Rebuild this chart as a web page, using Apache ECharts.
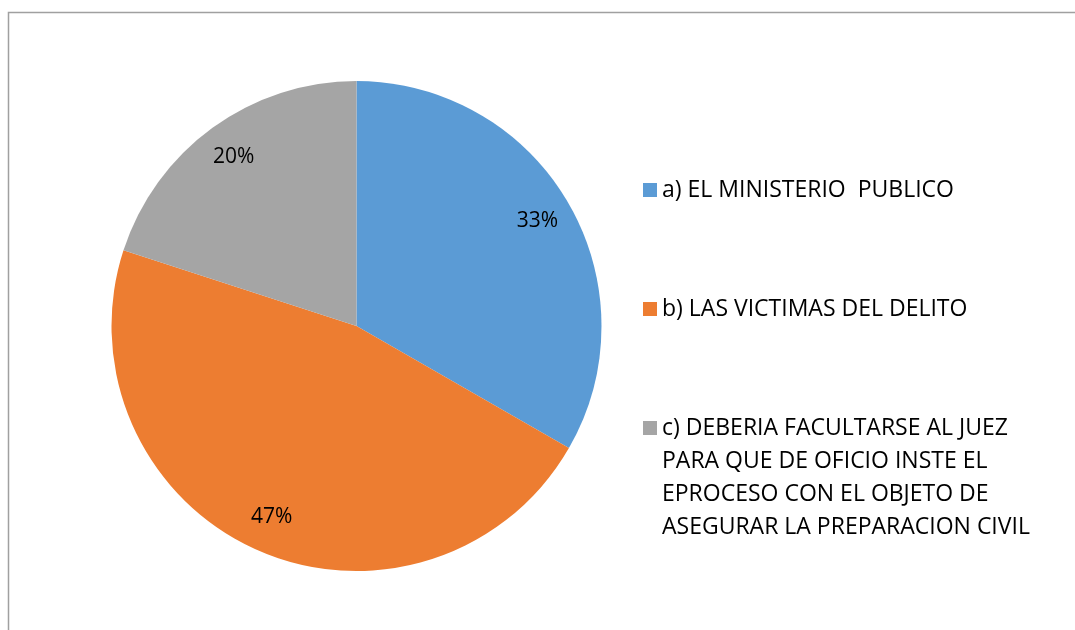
<!DOCTYPE html>
<html>
<head>
<meta charset="utf-8">
<script src="https://cdn.jsdelivr.net/npm/echarts@6/dist/echarts.min.js"></script>
<style>
html,body{margin:0;padding:0;background:#fff;}
#chart{width:1075px;height:630px;}
</style>
</head>
<body>
<div id="chart"></div>
<script>
const categories = [
  'a) EL MINISTERIO  PUBLICO',
  'b) LAS VICTIMAS DEL DELITO',
  'c) DEBERIA FACULTARSE AL JUEZ\nPARA QUE DE OFICIO INSTE EL\nEPROCESO CON EL OBJETO DE\nASEGURAR LA PREPARACION CIVIL'
];
const values = [33.3, 46.7, 20];
const colors = ['#5B9BD5', '#ED7D31', '#A5A5A5'];

const data = categories.map((n, i) => ({ name: n, value: values[i], itemStyle: { color: colors[i] } }));
const FONT = 'Open Sans';

const legendBase = {
  orient: 'vertical',
  left: 643,
  padding: 0,
  itemWidth: 14,
  itemHeight: 14,
  icon: 'rect',
  selectedMode: false,
  textStyle: { fontFamily: FONT, fontSize: 23, color: '#000', lineHeight: 33 }
};

const chart = echarts.init(document.getElementById('chart'));
chart.setOption({
  animation: false,
  backgroundColor: '#fff',
  graphic: [{
    type: 'rect',
    shape: { x: 8.5, y: 12.5, width: 1200, height: 800 },
    style: { fill: 'none', stroke: '#a0a0a0', lineWidth: 1.5 },
    silent: true,
    z: -10
  }],
  legend: [
    Object.assign({}, legendBase, { top: 173.5, data: [categories[0]] }),
    Object.assign({}, legendBase, { top: 292.5, data: [categories[1]] }),
    Object.assign({}, legendBase, {
      top: 312.5, data: [categories[2]],
      // leading blank lines keep the first text line level with the icon
      formatter: n => '\n\n\n' + n
    })
  ],
  series: [
    {
      type: 'pie',
      center: [356.5, 326],
      radius: [0, 245],
      startAngle: 90,
      clockwise: true,
      label: { show: false },
      labelLine: { show: false },
      emphasis: { disabled: true },
      itemStyle: { borderWidth: 0 },
      data: data
    },
    {
      type: 'pie',
      center: [356.5, 326],
      radius: [167, 245],
      startAngle: 90,
      clockwise: true,
      silent: true,
      emphasis: { disabled: true },
      itemStyle: { color: 'rgba(0,0,0,0)', borderWidth: 0 },
      label: {
        show: true,
        position: 'inside',
        fontFamily: FONT,
        fontSize: 21,
        color: '#000',
        formatter: p => Math.round(p.value) + '%'
      },
      labelLine: { show: false },
      data: categories.map((n, i) => ({ name: n, value: values[i] }))
    }
  ]
});
</script>
</body>
</html>
